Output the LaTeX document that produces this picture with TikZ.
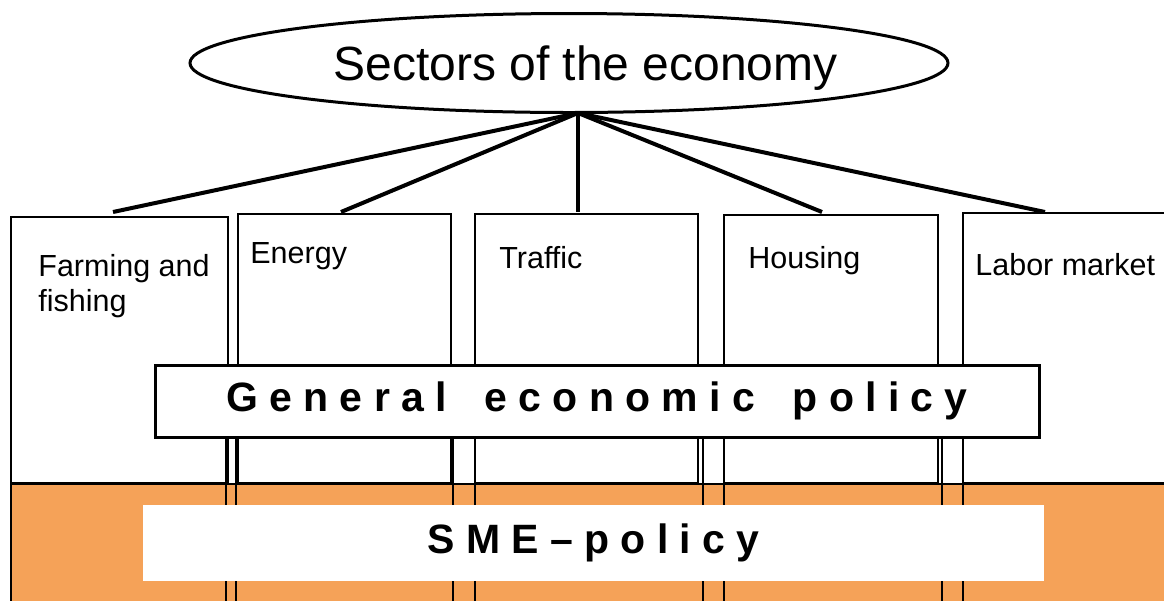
\documentclass[tikz,border=0pt]{standalone}
\usepackage{fontspec}
\setmainfont{Liberation Sans}
\newfontfamily\policyfam{Liberation Sans}[LetterSpace=27.5, WordSpace=1.67]
\usetikzlibrary{shapes.geometric,fit}
\definecolor{smeorange}{RGB}{245,162,88}
\tikzset{
    secbox/.style={draw, line width=1pt, inner sep=0pt},
    seclabel/.style={anchor=base west, inner sep=0pt, align=left, font=\fontsize{15.25}{17.5}\selectfont},
    spoke/.style={line width=2pt},
    colline/.style={line width=1pt},
    policyfont/.style={font=\policyfam\bfseries\fontsize{20.5}{24}\selectfont},
}

\begin{document}
\begin{tikzpicture}[x=0.5pt, y=-0.5pt]
    \useasboundingbox (0,0) rectangle (1164,601);
    \clip (0,0) rectangle (1164,601);

    % orange band
    \fill[smeorange] (11,483) rectangle (1164,601);
    \draw[colline] (11,483) -- (11,601);

    % sector columns
    \node[secbox, fit={(11,217) (228,483)}] (farm) {};
    \node[secbox, fit={(238,214) (451,483)}] (energy) {};
    \node[secbox, fit={(475,214) (698,483)}] (traffic) {};
    \node[secbox, fit={(724,215) (938,483)}] (housing) {};
    \node[secbox, fit={(963,213) (1200,483)}] (labor) {};
    \draw[colline] (farm.south west) -- (labor.south east);

    \foreach \x in {226,236,453,475,703,724,942,963}
        \draw[colline] (\x,437) -- (\x,601);

    % policy boxes
    \node[draw, fill=white, line width=1.5pt, inner sep=0pt, fit={(155,365) (1039,437)},
        label={[policyfont]center:General economic policy}] (gep) {};
    \node[fill=white, inner sep=0pt, fit={(143,505) (1044,581)},
        label={[policyfont]center:SME–policy}] (sme) {};

    % spokes
    \coordinate (hub) at (578,113);
    \coordinate (t1) at (113,212);
    \coordinate (t2) at (341,212);
    \coordinate (t3) at (578,212);
    \coordinate (t4) at (822,212);
    \coordinate (t5) at (1045,212);
    \foreach \t in {t1,t2,t3,t4,t5}
        \draw[spoke] (hub) -- (\t);

    \node[draw, ellipse, line width=1.5pt, minimum width=379pt, minimum height=49.5pt, inner sep=0pt] (eco) at (569,63) {};
    \node[anchor=base west, inner sep=0pt, font=\fontsize{24}{28}\selectfont] (ecoT) at (333,80) {Sectors of the economy};

    % sector labels
    \node[seclabel] (farmT) at (38,311) {Farming and\\fishing};
    \node[seclabel] (energyT) at (250,263) {Energy};
    \node[seclabel] (trafficT) at (499,268) {Traffic};
    \node[seclabel] (housingT) at (748,268) {Housing};
    \node[seclabel] (laborT) at (975,275) {Labor market};
\end{tikzpicture}
\end{document}
